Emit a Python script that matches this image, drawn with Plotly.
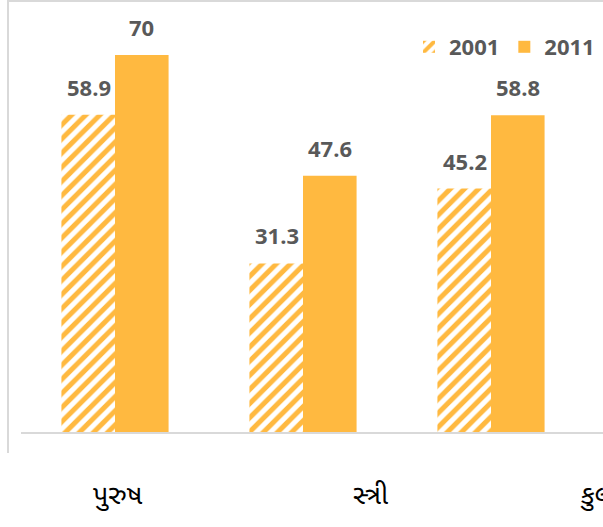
import plotly.graph_objects as go

categories = ["પુરુષ", "સ્ત્રી", "કુલ"]
series_names = ["2001", "2011"]
values_2001 = [58.9, 31.3, 45.2]
values_2011 = [70, 47.6, 58.8]

ORANGE = "#FFB940"
LABEL_GRAY = "#595959"
BORDER = "#D9D9D9"

W, H = 603, 527
ML, MR, MT, MB = 21, 0, 10, 95
plot_w = W - ML - MR
plot_h = H - MT - MB
cat_px = 188.0
x_range = [-0.5, -0.5 + plot_w / cat_px]
px_per_unit = 377 / 70.0
y_range = [0, plot_h / px_per_unit]

fig = go.Figure()
fig.add_trace(go.Bar(
    name=series_names[0], x=categories, y=values_2001,
    marker=dict(color="white", line=dict(width=0),
                pattern=dict(shape="/", fgcolor=ORANGE, bgcolor="white",
                             size=10, solidity=0.5, fillmode="replace")),
))
fig.add_trace(go.Bar(
    name=series_names[1], x=categories, y=values_2011,
    marker=dict(color=ORANGE, line=dict(width=0)),
))

annotations = []
bar_half = 26.5
for vals, sign in ((values_2001, -1), (values_2011, 1)):
    for c, v in zip(categories, vals):
        annotations.append(dict(
            x=c, y=v, xref="x", yref="y", text=f"<b>{v:g}</b>",
            showarrow=False, xshift=sign * bar_half, yshift=11,
            yanchor="bottom", xanchor="center",
            font=dict(family="Open Sans", size=22, color=LABEL_GRAY),
        ))

def px_x(px):
    return (px - ML) / plot_w

def px_y(py):
    return (H - MB - py) / plot_h

# category labels below the chart box
label_px = [(118, "center"), (370, "center"), (578, "left")]
for c, (px, anc) in zip(categories, label_px):
    annotations.append(dict(
        x=px_x(px), y=px_y(497), xref="paper", yref="paper",
        text=c, showarrow=False, xanchor=anc, yanchor="middle",
        font=dict(family="Noto Sans Gujarati, Noto Sans, sans-serif", size=27, color="#000000"),
    ))

shapes = [
    dict(type="line", xref="paper", yref="paper", x0=px_x(8), x1=px_x(8),
         y0=px_y(453), y1=px_y(0), line=dict(color=BORDER, width=2)),
    dict(type="line", xref="paper", yref="paper", x0=px_x(8), x1=px_x(610),
         y0=px_y(1), y1=px_y(1), line=dict(color=BORDER, width=2)),
]

fig.update_layout(
    width=W, height=H,
    margin=dict(l=ML, r=MR, t=MT, b=MB, pad=0),
    paper_bgcolor="white", plot_bgcolor="white",
    barmode="group", bargap=0.43, bargroupgap=0.0,
    showlegend=True,
    legend=dict(orientation="h", x=px_x(409), y=px_y(47), xanchor="left", yanchor="middle",
                font=dict(family="Open Sans", size=22, color=LABEL_GRAY, weight="bold"),
                bgcolor="rgba(0,0,0,0)", itemclick=False, traceorder="normal"),
    xaxis=dict(range=x_range, showticklabels=False, ticks="", showgrid=False,
               showline=True, linecolor=BORDER, linewidth=2, zeroline=False, fixedrange=True),
    yaxis=dict(range=y_range, visible=False, showgrid=False, zeroline=False, fixedrange=True),
    annotations=annotations,
    shapes=shapes,
    font=dict(family="Open Sans"),
)

fig.write_html(
    "out.html",
    config={"displayModeBar": False},
    post_script="document.body.style.margin='0';document.body.style.overflow='hidden';",
)
